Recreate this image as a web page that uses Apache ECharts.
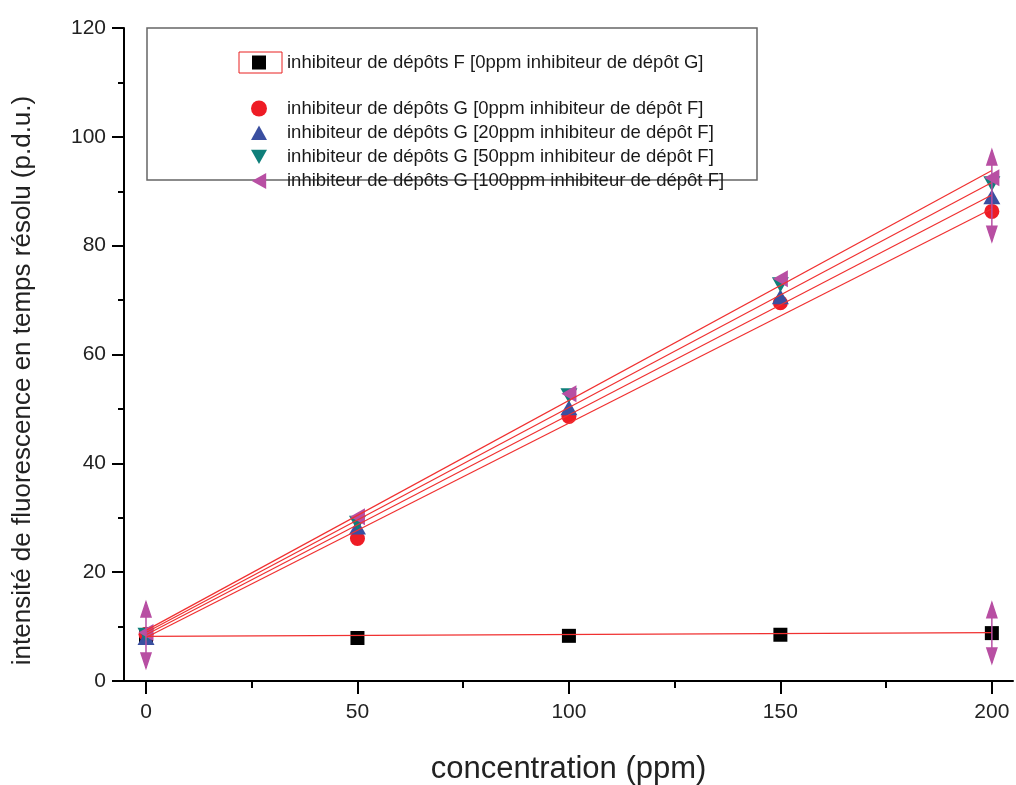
<!DOCTYPE html>
<html>
<head>
<meta charset="utf-8">
<script src="https://cdn.jsdelivr.net/npm/echarts@6/dist/echarts.min.js"></script>
<style>
  html, body { margin: 0; padding: 0; background: #fff; }
  #chart { width: 1016px; height: 785px; }
</style>
</head>
<body>
<div id="chart"></div>
<script>
// concentrations (ppm)
var xValues = [0, 50, 100, 150, 200];
var tickValues = [0, 50, 100, 150, 200];
var minorTickValues = [25, 75, 125, 175];

// measured intensities
var serieF = [8.3, 7.9, 8.3, 8.5, 8.8];
var serieG0 = [8.6, 26.2, 48.6, 69.5, 86.3];
var serieG20 = [8.0, 28.3, 50.2, 70.6, 89.0];
var serieG50 = [8.4, 29.0, 52.4, 72.8, 91.4];
var serieG100 = [8.9, 30.2, 52.8, 73.9, 92.5];

// fitted lines, value at 0 and at 200 ppm
var fitX = [0, 200];
var fitF = [8.2, 8.9];
var fitG0 = [8.0, 86.8];
var fitG20 = [8.5, 89.3];
var fitG50 = [8.9, 91.6];
var fitG100 = [9.3, 93.8];

// error bars [x, low, high]
var errorBars = [[0, 2.4, 14.5], [200, 80.8, 97.6], [200, 3.3, 14.4]];

var names = [
    'inhibiteur de dépôts F [0ppm inhibiteur de dépôt G]',
    'inhibiteur de dépôts G [0ppm inhibiteur de dépôt F]',
    'inhibiteur de dépôts G [20ppm inhibiteur de dépôt F]',
    'inhibiteur de dépôts G [50ppm inhibiteur de dépôt F]',
    'inhibiteur de dépôts G [100ppm inhibiteur de dépôt F]'
];

function pairs(xs, ys) {
    return xs.map(function (x, i) { return [x, ys[i]]; });
}

var font = '"Liberation Sans", Arial, sans-serif';
var magenta = '#b84fa3';

function scatter(name, data, symbol, size, color) {
    return {
        name: name,
        type: 'scatter',
        data: pairs(xValues, data),
        symbol: symbol,
        symbolSize: size,
        itemStyle: { color: color, opacity: 1 },
        z: 3
    };
}

function fitLine(data) {
    return {
        name: 'fit',
        type: 'line',
        data: pairs(fitX, data),
        symbol: 'none',
        lineStyle: { color: '#f03030', width: 1.2 },
        silent: true,
        z: 4
    };
}

var chart = echarts.init(document.getElementById('chart'));

var option = {
    animation: false,
    textStyle: { fontFamily: font },
    grid: { left: 124, right: 3, top: 28, bottom: 104, outerBoundsMode: 'none' },
    xAxis: [
        {
            type: 'value',
            min: -5.2,
            max: 205,
            name: 'concentration (ppm)',
            nameLocation: 'middle',
            nameGap: 73,
            nameTextStyle: { fontSize: 31, color: '#222' },
            axisLine: { onZero: false, lineStyle: { color: '#000', width: 2 } },
            axisTick: { length: 13, lineStyle: { color: '#000', width: 2 }, customValues: tickValues },
            axisLabel: { fontSize: 21, color: '#222', margin: 21, customValues: tickValues },
            splitLine: { show: false }
        },
        {
            type: 'value',
            min: -5.2,
            max: 205,
            position: 'bottom',
            axisLine: { show: false },
            axisTick: { length: 7, lineStyle: { color: '#000', width: 2 }, customValues: minorTickValues },
            axisLabel: { show: false },
            splitLine: { show: false }
        }
    ],
    yAxis: {
        type: 'value',
        min: 0,
        max: 120,
        interval: 20,
        name: 'intensité de fluorescence en temps résolu (p.d.u.)',
        nameLocation: 'middle',
        nameGap: 88,
        nameTextStyle: { fontSize: 26, color: '#222', padding: [0, 52, 0, 0] },
        axisLine: { show: true, onZero: false, lineStyle: { color: '#000', width: 2 } },
        axisTick: { show: true, length: 12, lineStyle: { color: '#000', width: 2 } },
        minorTick: { show: true, splitNumber: 2, length: 6, lineStyle: { color: '#000', width: 2 } },
        axisLabel: { fontSize: 21, color: '#222', margin: 18 },
        splitLine: { show: false }
    },
    legend: [
        {
            data: [names[0]],
            orient: 'vertical',
            left: 247,
            top: 48,
            itemWidth: 14,
            itemHeight: 14,
            textStyle: { fontSize: 18.5, lineHeight: 16, color: '#1a1a1a', padding: [0, 0, 0, 16] }
        },
        {
            data: names.slice(1),
            orient: 'vertical',
            left: 246,
            top: 94,
            itemWidth: 16,
            itemHeight: 16,
            itemGap: 5.2,
            textStyle: { fontSize: 18.5, lineHeight: 16, color: '#1a1a1a', padding: [0, 0, 0, 15] }
        }
    ],
    graphic: [
        {
            type: 'rect',
            shape: { x: 147, y: 28, width: 610, height: 152 },
            style: { fill: 'none', stroke: '#666', lineWidth: 1.5 },
            z: 1
        },
        {
            type: 'rect',
            shape: { x: 239, y: 52, width: 43, height: 21 },
            style: { fill: 'none', stroke: '#e82020', lineWidth: 1 },
            z: 10
        },
        {
            type: 'line',
            shape: { x1: 112, y1: 681, x2: 125, y2: 681 },
            style: { stroke: '#000', lineWidth: 2 }
        }
    ],
    series: [
        scatter(names[0], serieF, 'rect', 14, '#000'),
        scatter(names[1], serieG0, 'circle', 15, '#ee1c25'),
        scatter(names[2], serieG20, 'path://M5,0 L10,9 L0,9 Z', [17, 15], '#3a4fa0'),
        scatter(names[3], serieG50, 'path://M0,0 L10,0 L5,9 Z', [17, 15], '#0f7f7a'),
        scatter(names[4], serieG100, 'path://M9,0 L9,10 L0,5 Z', [15, 17], magenta),
        fitLine(fitF),
        fitLine(fitG0),
        fitLine(fitG20),
        fitLine(fitG50),
        fitLine(fitG100),
        {
            name: 'error',
            type: 'custom',
            data: errorBars,
            z: 5,
            renderItem: function (params, api) {
                var top = api.coord([api.value(0), api.value(2)]);
                var bottom = api.coord([api.value(0), api.value(1)]);
                var x = top[0];
                var style = { fill: magenta, stroke: magenta, lineWidth: 1.5 };
                return {
                    type: 'group',
                    children: [
                        { type: 'line', shape: { x1: x, y1: top[1], x2: x, y2: bottom[1] }, style: { stroke: magenta, lineWidth: 1.5 } },
                        { type: 'polygon', shape: { points: [[x, top[1]], [x - 5, top[1] + 15], [x + 5, top[1] + 15]] }, style: style },
                        { type: 'polygon', shape: { points: [[x, bottom[1]], [x - 5, bottom[1] - 15], [x + 5, bottom[1] - 15]] }, style: style }
                    ]
                };
            }
        }
    ]
};

chart.setOption(option);
</script>
</body>
</html>
